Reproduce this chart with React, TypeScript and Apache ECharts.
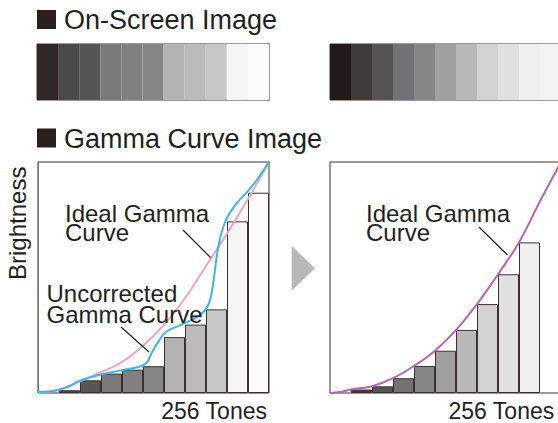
import React, { useEffect, useRef } from "react";
import * as echarts from "echarts";

// ---- data ----
const tones = ["1", "2", "3", "4", "5", "6", "7", "8", "9", "10", "11"];
const leftStripColors = ["#302826", "#4a4a4a", "#565656", "#7a7a7a", "#808080", "#868686", "#b3b3b3", "#bbbbbb", "#c8c8c8", "#f5f5f5", "#fcfcfc"];
const rightStripColors = ["#231b19", "#403c3a", "#575553", "#727274", "#868686", "#a0a0a0", "#b9b9b9", "#d2d2d2", "#e1e1e1", "#efefef", "#f3f3f3"];
const leftBars = [null, 0.012, 0.055, 0.084, 0.101, 0.116, 0.242, 0.296, 0.362, 0.743, 0.867];
const rightBars = [null, 0.015, 0.029, 0.064, 0.117, 0.183, 0.273, 0.385, 0.514, 0.652, null];
const leftIdealX = [0, 1, 2, 3, 4, 5, 6, 7, 8, 9, 10, 11];
const leftIdealY = [0, 0.015, 0.05, 0.09, 0.135, 0.205, 0.295, 0.41, 0.55, 0.69, 0.84, 1.0];
const uncorrectedX = [0, 0.95, 1.45, 2.05, 2.85, 3.95, 4.9, 5.2, 5.45, 5.75, 6.1, 6.75, 7.7, 8.1, 8.3, 8.6, 8.95, 9.45, 9.95, 10.4, 11];
const uncorrectedY = [0.004, 0.012, 0.028, 0.055, 0.077, 0.098, 0.116, 0.134, 0.18, 0.225, 0.265, 0.293, 0.336, 0.38, 0.45, 0.64, 0.748, 0.82, 0.87, 0.92, 1.0];
const rightIdealX = [0, 0.5, 1, 2, 3, 4, 5, 6, 7, 8, 9, 10, 11];
const rightIdealY = [0, 0.004, 0.015, 0.029, 0.064, 0.117, 0.183, 0.273, 0.385, 0.514, 0.652, 0.83, 1.0];

const FONT = '"Liberation Sans", Arial, Helvetica, sans-serif';
const INK = "#231f1e";
const EDGE = "#3a3230";

const pairs = (xs: number[], ys: number[]) => xs.map((x, i) => [x, ys[i]]);

export default function App() {
  const ref = useRef<HTMLDivElement>(null);
  useEffect(() => {
    if (!ref.current) return;
    const chart = echarts.init(ref.current, null, { renderer: "svg" });
    const hiddenCat = (gridIndex: number) => ({
      type: "category", gridIndex, data: tones, show: false, boundaryGap: true,
    });
    const hiddenVal = (gridIndex: number, max: number) => ({
      type: "value", gridIndex, min: 0, max, show: false,
    });
    const stripData = (cols: string[]) => cols.map((c) => ({ value: 1, itemStyle: { color: c } }));
    const barData = (vals: (number | null)[], cols: string[]) =>
      vals.map((v, i) => (v === null ? "-" : { value: v, itemStyle: { color: cols[i] } }));

    const text = (t: string, x: number, y: number, size: number, align = "left", extra: any = {}, lineHeight?: number) => ({
      type: "text", x, y, ...extra,
      style: {
        text: t, font: `${size}px ${FONT}`, fill: INK, textAlign: align, textVerticalAlign: "top",
        ...(lineHeight ? { lineHeight } : {}),
      },
      z: 100,
    });
    const pointer = (x1: number, y1: number, x2: number, y2: number) => ({
      type: "line", shape: { x1, y1, x2, y2 }, style: { stroke: INK, lineWidth: 1.2 }, z: 100,
    });

    chart.setOption({
      animation: false,
      backgroundColor: "#ffffff",
      grid: [
        { left: 37, top: 44, width: 232, height: 56, show: true, borderColor: EDGE, borderWidth: 1, backgroundColor: "transparent" },
        { left: 330, top: 44, width: 231, height: 56, show: true, borderColor: EDGE, borderWidth: 1, backgroundColor: "transparent" },
        { left: 38, top: 162, width: 231, height: 231, show: true, borderColor: EDGE, borderWidth: 1, backgroundColor: "transparent" },
        { left: 330, top: 162, width: 231, height: 231, show: true, borderColor: EDGE, borderWidth: 1, backgroundColor: "transparent" },
      ],
      xAxis: [
        hiddenCat(0),
        hiddenCat(1),
        hiddenCat(2),
        hiddenVal(2, 11),
        hiddenCat(3),
        hiddenVal(3, 11),
      ],
      yAxis: [
        hiddenVal(0, 1),
        hiddenVal(1, 1),
        {
          type: "value", gridIndex: 2, min: 0, max: 1,
          axisLine: { show: true, lineStyle: { color: "#7d7878", width: 1 } },
          axisTick: { show: false }, axisLabel: { show: false }, splitLine: { show: false },
        },
        hiddenVal(3, 1),
      ],
      series: [
        { type: "bar", xAxisIndex: 0, yAxisIndex: 0, data: stripData(leftStripColors), barCategoryGap: "0%", silent: true },
        { type: "bar", xAxisIndex: 1, yAxisIndex: 1, data: stripData(rightStripColors), barCategoryGap: "0%", silent: true },
        {
          type: "bar", xAxisIndex: 2, yAxisIndex: 2, data: barData(leftBars, leftStripColors),
          barCategoryGap: "0%", silent: true, itemStyle: { borderColor: EDGE, borderWidth: 1 },
        },
        {
          type: "line", xAxisIndex: 3, yAxisIndex: 2, data: pairs(leftIdealX, leftIdealY), smooth: 0.4,
          symbol: "none", silent: true, lineStyle: { color: "#f0a3c3", width: 2 }, z: 5,
        },
        {
          type: "line", xAxisIndex: 3, yAxisIndex: 2, data: pairs(uncorrectedX, uncorrectedY), smooth: 0.4,
          symbol: "none", silent: true, lineStyle: { color: "#3db5ea", width: 2 }, z: 6,
        },
        {
          type: "bar", xAxisIndex: 4, yAxisIndex: 3, data: barData(rightBars, rightStripColors),
          barCategoryGap: "0%", silent: true, itemStyle: { borderColor: EDGE, borderWidth: 1 },
        },
        {
          type: "line", xAxisIndex: 5, yAxisIndex: 3, data: pairs(rightIdealX, rightIdealY), smooth: 0.4,
          symbol: "none", silent: true, lineStyle: { color: "#b266b4", width: 2 }, z: 5,
        },
      ],
      graphic: [
        { type: "rect", shape: { x: 37, y: 10, width: 19, height: 19 }, style: { fill: "#2a201e" } },
        text("On-Screen Image", 64, 6.5, 27),
        { type: "rect", shape: { x: 37, y: 128.5, width: 19, height: 19 }, style: { fill: "#2a201e" } },
        text("Gamma Curve Image", 64, 125, 27),
        text("Brightness", 5, 280, 24, "left", { rotation: Math.PI / 2 }),
        text("Ideal Gamma\nCurve", 65, 203.5, 24, "left", {}, 19.5),
        text("Uncorrected\nGamma Curve", 46.5, 283, 24, "left", {}, 21),
        text("256 Tones", 267, 399, 23, "right"),
        text("Ideal Gamma\nCurve", 366, 203.5, 24, "left", {}, 19.5),
        text("256 Tones", 448.5, 399, 23),
        pointer(183, 230, 211, 258),
        pointer(121, 327, 149, 352),
        pointer(479, 227, 507.5, 255),
        {
          type: "polygon", shape: { points: [[291.7, 246], [315, 268.3], [291.7, 290.7]] },
          style: { fill: "#b8b8b8" },
        },
      ],
    });
    return () => chart.dispose();
  }, []);
  return (
    <div style={{ position: "fixed", left: 0, top: 0, width: 558, height: 423, overflow: "hidden", background: "#fff" }}>
      <div ref={ref} style={{ width: 600, height: 423 }} />
    </div>
  );
}
